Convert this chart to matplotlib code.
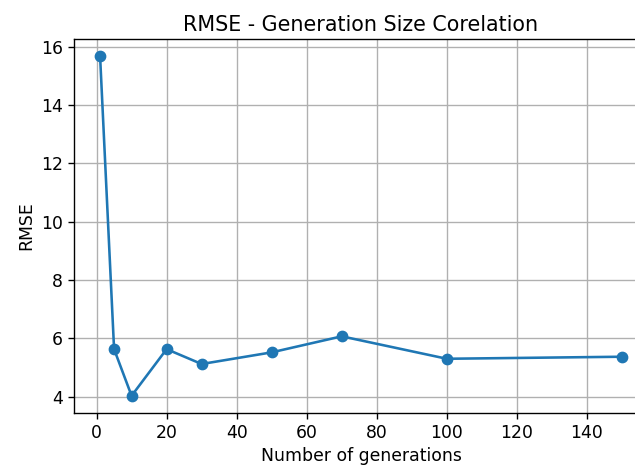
import matplotlib
matplotlib.use('Agg')
import matplotlib.pyplot as plt

# Data
generations = [1, 5, 10, 20, 30, 50, 70, 100, 150]
rmse = [15.69, 5.63, 4.03, 5.63, 5.12, 5.52, 6.07, 5.30, 5.37]

# reference looks like a notebook figure rendered larger, so scale text/lines
s = 1.24
plt.rcParams.update({
    'font.size': 10 * s,
    'axes.titlesize': 12 * s,
    'axes.linewidth': 0.8 * s,
    'xtick.major.size': 3.5 * s,
    'ytick.major.size': 3.5 * s,
    'xtick.major.width': 0.8 * s,
    'ytick.major.width': 0.8 * s,
    'grid.linewidth': 0.8 * s,
})

fig = plt.figure(figsize=(6.35, 4.65), dpi=100)
# axes extends past the right edge, like the cropped notebook output
ax = fig.add_axes([0.1165, 0.1123, 0.904, 0.804])
ax.plot(generations, rmse, marker='o', markersize=6 * s, linewidth=1.5 * s)
ax.set_title('RMSE - Generation Size Corelation')
ax.set_xlabel('Number of generations')
ax.set_ylabel('RMSE')
ax.grid(True)

fig.savefig('out.png', dpi=100)
